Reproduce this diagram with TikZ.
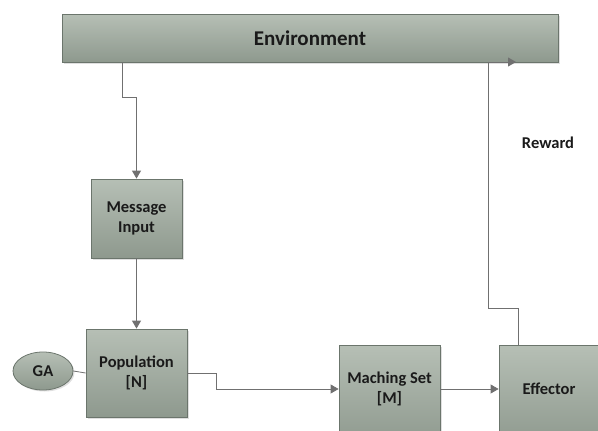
\documentclass[tikz,border=0pt]{standalone}
\usepackage{fontspec}
\setmainfont{Carlito}
\usetikzlibrary{arrows.meta,shadows,shapes.geometric}
\definecolor{boxtop}{HTML}{B6BFB5}
\definecolor{boxbot}{HTML}{8E998E}
\definecolor{boxline}{HTML}{6B756C}
\definecolor{linec}{HTML}{707070}
\definecolor{txt}{HTML}{1A1A1A}
\tikzset{
  blk/.style={draw=boxline, line width=0.8pt, top color=boxtop, bottom color=boxbot,
    drop shadow={shadow xshift=1.5pt, shadow yshift=-1.5pt, fill=black!25, opacity=0.5},
    text=txt, font=\bfseries\fontsize{16.5}{20}\selectfont, align=center,
    inner sep=0pt, minimum width=101pt},
  conn/.style={draw=linec, line width=0.8pt},
  arr/.style={conn, -{Triangle[length=8pt,width=9pt]}},
  lbl/.style={text=txt, font=\bfseries\fontsize{16.5}{20}\selectfont, align=center}
}
\begin{document}
\begin{tikzpicture}[x=1pt,y=1pt]
\useasboundingbox (0,0) rectangle (598,-431);
\node[blk, minimum width=496pt, minimum height=48pt, font=\bfseries\fontsize{21}{24}\selectfont] (env) at (310,-38) {Environment};
\node[blk, minimum width=91pt, minimum height=79pt] (msg) at (136.5,-218.5) {Message\\Input};
\node[blk, minimum width=101pt, minimum height=88pt] (pop) at (136.5,-373) {Population\\{[N]}};
\node[ellipse, draw=boxline, line width=0.8pt, top color=boxtop, bottom color=boxbot,
  drop shadow={shadow xshift=1.5pt, shadow yshift=-1.5pt, fill=black!25, opacity=0.5},
  minimum width=60pt, minimum height=38pt, inner sep=0pt, text=txt,
  font=\bfseries\fontsize{16.5}{20}\selectfont] (ga) at (43,-371) {GA};
\node[blk, anchor=north, minimum width=101pt, minimum height=100pt] (matchbox) at (389.5,-345) {};
\node[lbl] (match) at (389.5,-389) {Maching Set\\{[M]}};
\node[blk, anchor=north, minimum width=100pt, minimum height=100pt] (effbox) at (549,-345) {};
\node[lbl] (eff) at (549,-389) {Effector};
\node[lbl] (rew) at (548,-143) {Reward};
\coordinate (envr) at (488,-62);
\coordinate (envtip) at (516,-62);
\draw[arr] ([xshift=-188pt]env.south) -- ++(0,-35) -| (msg.north);
\draw[arr] (msg.south) -- (pop.north);
\draw[conn] (ga.east) -- (pop.west);
\draw[arr] (pop.east) -- ++(29,0) |- (matchbox.west |- match);
\draw[arr] (matchbox.east |- match) -- (effbox.west |- eff);
\draw[arr] ([xshift=-31pt]effbox.north) -- ++(0,37) -| (envr) -- (envtip);
\end{tikzpicture}
\end{document}
